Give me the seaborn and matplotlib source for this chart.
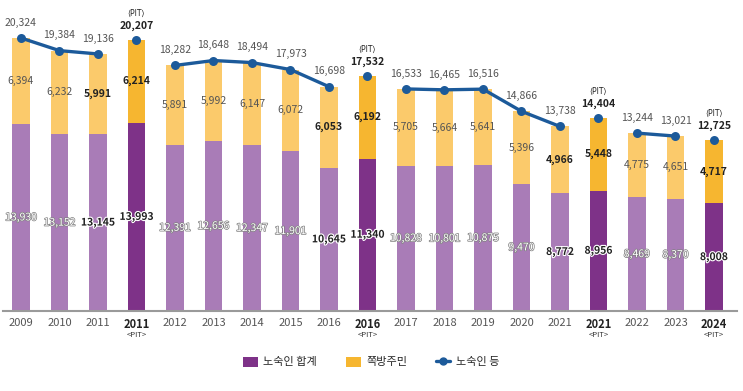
import numpy as np
import pandas as pd
import matplotlib
matplotlib.use("Agg")
import matplotlib.pyplot as plt
import matplotlib.patheffects as pe
from matplotlib.patches import Patch
from matplotlib.lines import Line2D
import seaborn as sns

# ---- data ----
years = ["2009", "2010", "2011", "2011", "2012", "2013", "2014", "2015", "2016", "2016",
         "2017", "2018", "2019", "2020", "2021", "2021", "2022", "2023", "2024"]
is_pit = [False, False, False, True, False, False, False, False, False, True,
          False, False, False, False, False, True, False, False, True]
homeless = [13930, 13152, 13145, 13993, 12391, 12656, 12347, 11901, 10645, 11340,
            10828, 10801, 10875, 9470, 8772, 8956, 8469, 8370, 8008]
jjokbang = [6394, 6232, 5991, 6214, 5891, 5992, 6147, 6072, 6053, 6192,
            5705, 5664, 5641, 5396, 4966, 5448, 4775, 4651, 4717]
totals = [20324, 19384, 19136, 20207, 18282, 18648, 18494, 17973, 16698, 17532,
          16533, 16465, 16516, 14866, 13738, 14404, 13244, 13021, 12725]
segments = [0, 0, 0, None, 1, 1, 1, 1, 1, None, 2, 2, 2, 2, 2, None, 3, 3, None]
legend_labels = ["노숙인 합계", "쪽방주민", "노숙인 등"]

# ---- styling ----
sns.set_style("white")
plt.rcParams["font.family"] = ["Noto Sans CJK KR", "DejaVu Sans"]

C_PURPLE = "#a97cb7"
C_PURPLE_PIT = "#7e3288"
C_YELLOW = "#fbca6b"
C_YELLOW_PIT = "#f6b630"
C_LINE = "#1c5a9a"
C_TEXT = "#555555"

n = len(years)
keys = [f"{y}{' PIT' if p else ''}_{i}" for i, (y, p) in enumerate(zip(years, is_pit))]
df = pd.DataFrame({
    "key": keys,
    "pos": np.arange(n),
    "homeless": homeless,
    "jjokbang": jjokbang,
    "total": totals,
    "seg": segments,
})

fig = plt.figure(figsize=(7.43, 3.91), dpi=100)
ax = fig.add_axes([3 / 743, 80 / 391, 734 / 743, 311 / 391])

# stacked bars: total (yellow) with homeless (purple) over it
sns.barplot(data=df, x="key", y="total", order=keys, color=C_YELLOW, width=0.45,
            ax=ax, errorbar=None, saturation=1)
n_before = len(ax.patches)
sns.barplot(data=df, x="key", y="homeless", order=keys, color=C_PURPLE, width=0.45,
            ax=ax, errorbar=None, saturation=1)
for i, p in enumerate(ax.patches[:n_before]):
    p.set_facecolor(C_YELLOW_PIT if is_pit[i] else C_YELLOW)
    p.set_edgecolor("none")
for i, p in enumerate(ax.patches[n_before:]):
    p.set_facecolor(C_PURPLE_PIT if is_pit[i] else C_PURPLE)
    p.set_edgecolor("none")

# line segments
seg_df = df.dropna(subset=["seg"])
sns.lineplot(data=seg_df, x="pos", y="total", units="seg", estimator=None,
             color=C_LINE, linewidth=2.4, ax=ax, legend=False)
sns.scatterplot(data=df, x="pos", y="total", color=C_LINE, s=42, edgecolor=C_LINE,
                linewidth=0, ax=ax, legend=False, zorder=5)

bold_idx = {2, 3, 8, 9, 14, 15, 18}
for i in range(n):
    t = totals[i]
    h = homeless[i]
    j = jjokbang[i]
    # total label
    if is_pit[i]:
        ax.annotate(f"{t:,}", (i, t), xytext=(0, 10), textcoords="offset points",
                    ha="center", va="center", fontsize=7.5, fontweight="bold", color="#222222")
        ax.annotate("⟨PIT⟩", (i, t), xytext=(0, 19), textcoords="offset points",
                    ha="center", va="center", fontsize=5.5, color="#222222",
                    family=["DejaVu Sans"])
    else:
        ax.annotate(f"{t:,}", (i, t), xytext=(0, 11), textcoords="offset points",
                    ha="center", va="center", fontsize=7.5, color=C_TEXT)
    # jjokbang label
    bold = i in bold_idx
    ax.text(i, h + j / 2, f"{j:,}", ha="center", va="center", fontsize=7.5,
            fontweight="bold" if bold else "normal",
            color="#222222" if bold else C_TEXT)
    # homeless label
    if bold:
        ax.text(i, h / 2, f"{h:,}", ha="center", va="center", fontsize=7.5,
                fontweight="bold", color="#222222",
                path_effects=[pe.withStroke(linewidth=1.6, foreground="white")])
    else:
        ax.text(i, h / 2, f"{h:,}", ha="center", va="center", fontsize=7.5,
                color="white",
                path_effects=[pe.withStroke(linewidth=1.0, foreground="#808080")])

ax.set_xlim((3 - 21) / 38.5, (737 - 21) / 38.5)
ax.set_ylim(0, 20324 * 311 / 273)
ax.set_xlabel("")
ax.set_ylabel("")
ax.set_yticks([])
ax.set_xticks(np.arange(n))
ax.set_xticklabels(years)
ax.tick_params(axis="x", length=0, pad=5, labelsize=8, labelcolor=C_TEXT)
for i, lab in enumerate(ax.get_xticklabels()):
    if is_pit[i]:
        lab.set_fontweight("bold")
        lab.set_color("#222222")
        ax.annotate("<PIT>", (i, 0), xycoords=("data", "axes fraction"),
                    xytext=(0, -17), textcoords="offset points", ha="center",
                    va="center", fontsize=5.5, color="#333333", annotation_clip=False)
for s in ["top", "left", "right"]:
    ax.spines[s].set_visible(False)
ax.spines["bottom"].set_color("#9a9a9a")
ax.spines["bottom"].set_linewidth(1.5)

handles = [
    Patch(facecolor=C_PURPLE_PIT, edgecolor="none"),
    Patch(facecolor=C_YELLOW_PIT, edgecolor="none"),
    Line2D([0], [0], color=C_LINE, linewidth=2.4, marker="o", markersize=5),
]
fig.legend(handles, legend_labels, loc="center", bbox_to_anchor=(0.5, 1 - 362 / 391),
           ncol=3, frameon=False, fontsize=8, handlelength=1.3, handleheight=1.0,
           columnspacing=2.6, handletextpad=0.5, numpoints=1)

fig.savefig("out.png", dpi=100)
